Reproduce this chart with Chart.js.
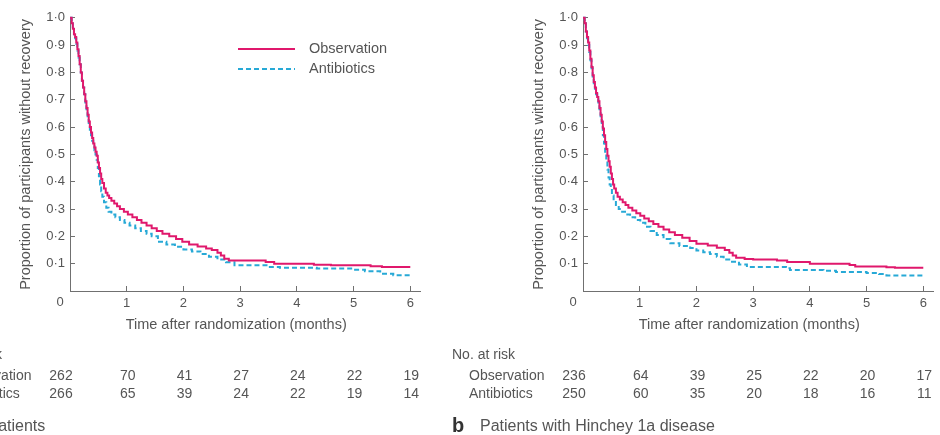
<!DOCTYPE html>
<html>
<head>
<meta charset="utf-8">
<script src="https://cdn.jsdelivr.net/npm/chart.js@4.4.1/dist/chart.umd.min.js"></script>
<style>
  html, body { margin: 0; padding: 0; background: #fff; overflow: hidden; }
  body { width: 940px; height: 435px; position: relative; }
  .panel { position: absolute; top: 0; width: 500px; height: 435px; }
  #panelA { left: -73px; }
  #panelB { left: 440px; }
</style>
</head>
<body>
<div class="panel" id="panelA"><canvas id="chartA" width="500" height="435"></canvas></div>
<div class="panel" id="panelB"><canvas id="chartB" width="500" height="435"></canvas></div>
<script>
  // ticks + risk table columns
  const xTicks = [0, 1, 2, 3, 4, 5, 6];
  const yTicks = [0.1, 0.2, 0.3, 0.4, 0.5, 0.6, 0.7, 0.8, 0.9, 1.0];
  const riskTimes = [0, 1, 2, 3, 4, 5, 6];
  const seriesNames = ["Observation", "Antibiotics"];
  const xTitle = "Time after randomization (months)";

  // panel a - all patients
  const obsTimeA = [0, 0.03, 0.05, 0.07, 0.09, 0.11, 0.13, 0.15, 0.17, 0.19, 0.21, 0.23, 0.25, 0.27, 0.29, 0.31, 0.33, 0.35, 0.37, 0.39, 0.41, 0.43, 0.45, 0.47, 0.49, 0.51, 0.53, 0.55, 0.57, 0.60, 0.63, 0.66, 0.69, 0.73, 0.78, 0.83, 0.88, 0.95, 1.02, 1.1, 1.18, 1.26, 1.35, 1.44, 1.53, 1.63, 1.75, 1.87, 1.98, 2.1, 2.25, 2.4, 2.5, 2.6, 2.66, 2.72, 2.8, 3.45, 3.6, 4.3, 4.6, 5.3, 5.5, 6.0];
  const obsPropA = [1.0, 0.98, 0.96, 0.94, 0.93, 0.91, 0.885, 0.86, 0.83, 0.80, 0.77, 0.745, 0.72, 0.695, 0.67, 0.645, 0.62, 0.60, 0.58, 0.56, 0.54, 0.525, 0.51, 0.495, 0.47, 0.45, 0.43, 0.41, 0.395, 0.375, 0.36, 0.35, 0.34, 0.33, 0.32, 0.31, 0.30, 0.29, 0.28, 0.27, 0.26, 0.25, 0.24, 0.23, 0.22, 0.21, 0.20, 0.19, 0.18, 0.17, 0.163, 0.156, 0.15, 0.14, 0.13, 0.118, 0.112, 0.106, 0.10, 0.096, 0.094, 0.091, 0.088, 0.088];
  const abxTimeA = [0, 0.03, 0.05, 0.07, 0.09, 0.11, 0.13, 0.15, 0.17, 0.19, 0.21, 0.23, 0.25, 0.27, 0.29, 0.31, 0.33, 0.35, 0.37, 0.39, 0.41, 0.43, 0.45, 0.47, 0.49, 0.51, 0.53, 0.55, 0.57, 0.60, 0.64, 0.68, 0.73, 0.8, 0.88, 0.96, 1.05, 1.15, 1.25, 1.35, 1.44, 1.55, 1.7, 1.85, 2.0, 2.15, 2.3, 2.45, 2.6, 2.75, 2.9, 3.5, 3.7, 4.35, 5.0, 5.2, 5.47, 5.7, 6.0];
  const abxPropA = [1.0, 0.98, 0.96, 0.94, 0.925, 0.905, 0.88, 0.855, 0.83, 0.80, 0.77, 0.745, 0.72, 0.69, 0.665, 0.64, 0.615, 0.59, 0.57, 0.55, 0.53, 0.515, 0.50, 0.48, 0.45, 0.42, 0.39, 0.365, 0.345, 0.325, 0.305, 0.29, 0.28, 0.27, 0.26, 0.25, 0.24, 0.23, 0.22, 0.21, 0.20, 0.18, 0.17, 0.162, 0.152, 0.145, 0.135, 0.125, 0.115, 0.105, 0.094, 0.088, 0.085, 0.082, 0.078, 0.072, 0.063, 0.058, 0.057];
  const obsRiskA = [262, 70, 41, 27, 24, 22, 19];
  const abxRiskA = [266, 65, 39, 24, 22, 19, 14];

  // panel b - Hinchey 1a
  const obsTimeB = [0, 0.03, 0.05, 0.07, 0.09, 0.11, 0.13, 0.15, 0.17, 0.19, 0.21, 0.23, 0.25, 0.27, 0.29, 0.31, 0.33, 0.35, 0.37, 0.39, 0.41, 0.43, 0.45, 0.47, 0.49, 0.51, 0.53, 0.55, 0.58, 0.61, 0.65, 0.70, 0.75, 0.80, 0.87, 0.94, 1.01, 1.08, 1.16, 1.24, 1.33, 1.42, 1.52, 1.62, 1.75, 1.88, 2.0, 2.2, 2.36, 2.5, 2.58, 2.64, 2.7, 2.85, 3.0, 3.42, 3.6, 4.0, 4.7, 4.8, 5.35, 5.5, 6.0];
  const obsPropB = [1.0, 0.98, 0.95, 0.93, 0.91, 0.88, 0.85, 0.82, 0.79, 0.765, 0.745, 0.725, 0.71, 0.695, 0.67, 0.645, 0.62, 0.595, 0.57, 0.545, 0.52, 0.495, 0.475, 0.455, 0.43, 0.41, 0.39, 0.375, 0.36, 0.345, 0.335, 0.325, 0.315, 0.305, 0.295, 0.285, 0.275, 0.265, 0.255, 0.245, 0.235, 0.225, 0.215, 0.205, 0.195, 0.183, 0.173, 0.167, 0.158, 0.15, 0.14, 0.13, 0.122, 0.117, 0.115, 0.112, 0.106, 0.10, 0.095, 0.09, 0.087, 0.085, 0.085];
  const abxTimeB = [0, 0.03, 0.05, 0.07, 0.09, 0.11, 0.13, 0.15, 0.17, 0.19, 0.21, 0.23, 0.25, 0.27, 0.29, 0.31, 0.33, 0.35, 0.37, 0.39, 0.41, 0.43, 0.45, 0.47, 0.49, 0.51, 0.54, 0.58, 0.63, 0.69, 0.76, 0.83, 0.92, 1.01, 1.1, 1.19, 1.3, 1.42, 1.54, 1.7, 1.89, 2.0, 2.12, 2.24, 2.36, 2.48, 2.6, 2.75, 2.89, 3.58, 3.65, 4.24, 4.46, 5.0, 5.22, 5.35, 6.0];
  const abxPropB = [1.0, 0.98, 0.95, 0.925, 0.90, 0.875, 0.845, 0.815, 0.785, 0.76, 0.74, 0.72, 0.705, 0.69, 0.66, 0.63, 0.60, 0.57, 0.54, 0.505, 0.475, 0.445, 0.415, 0.39, 0.37, 0.35, 0.33, 0.315, 0.30, 0.29, 0.28, 0.27, 0.26, 0.25, 0.235, 0.22, 0.205, 0.19, 0.175, 0.165, 0.157, 0.148, 0.142, 0.135, 0.125, 0.115, 0.107, 0.097, 0.088, 0.083, 0.077, 0.074, 0.07, 0.066, 0.062, 0.057, 0.052];
  const obsRiskB = [236, 64, 39, 25, 22, 20, 17];
  const abxRiskB = [250, 60, 35, 20, 18, 16, 11];

  const FONT = '"Liberation Sans", Arial, sans-serif';
  const TXT = '#555';
  const AXIS = '#707070';
  const obsColor = '#e0186c';
  const abxColor = '#27a9d6';

  const toXY = (ts, vs) => ts.map((t, i) => ({ x: t, y: vs[i] }));

  // x title, risk table, corner zero, legend, panel caption
  const extrasPlugin = {
    id: 'extras',
    afterDraw(chart, args, opts) {
      const ctx = chart.ctx, xs = chart.scales.x, ys = chart.scales.y;
      const ds = chart.data.datasets;
      ctx.save();
      ctx.fillStyle = TXT;
      ctx.font = '13px ' + FONT;
      ctx.textBaseline = 'middle';
      ctx.textAlign = 'center';
      ctx.fillText('0', xs.getPixelForValue(0) - 10, ys.getPixelForValue(0) + 11);

      // axis title sits a bit left of the axis centre in the original
      ctx.font = '14.5px ' + FONT;
      ctx.fillText(xTitle, xs.getPixelForValue(2.93), 325);

      ctx.font = '14px ' + FONT;
      ctx.textAlign = 'left';
      ctx.fillText('No. at risk', 12, 355);
      const rows = [opts.obsRisk, opts.abxRisk];
      const rowY = [376, 394];
      rows.forEach(function (row, r) {
        ctx.textAlign = 'left';
        ctx.fillText(seriesNames[r], 29, rowY[r]);
        ctx.textAlign = 'center';
        row.forEach(function (n, i) {
          let px = xs.getPixelForValue(riskTimes[i]);
          if (i === 0) { px -= 10; } // first column sits under the corner zero
          ctx.fillText(String(n), px + 1, rowY[r]);
        });
      });

      // caption
      ctx.textAlign = 'left';
      ctx.textBaseline = 'alphabetic';
      ctx.fillStyle = '#333';
      ctx.font = 'bold 20px ' + FONT;
      ctx.fillText(opts.letter, 12, 432);
      ctx.fillStyle = TXT;
      ctx.font = '16px ' + FONT;
      ctx.fillText(opts.caption, 40, 431);

      if (opts.legend) {
        const area = chart.chartArea;
        const lx = area.left + 168, len = 57;
        [49, 69].forEach(function (ly, i) {
          ctx.strokeStyle = ds[i].borderColor;
          ctx.lineWidth = ds[i].borderWidth;
          ctx.setLineDash(ds[i].borderDash || []);
          ctx.beginPath();
          ctx.moveTo(lx, ly);
          ctx.lineTo(lx + len, ly);
          ctx.stroke();
          ctx.setLineDash([]);
          ctx.fillStyle = TXT;
          ctx.font = '14.5px ' + FONT;
          ctx.textBaseline = 'middle';
          ctx.fillText(ds[i].label, lx + len + 14, ly);
        });
      }
      ctx.restore();
    }
  };

  function makePanel(canvasId, obsT, obsP, abxT, abxP, obsRisk, abxRisk, letter, caption, legend) {
    return new Chart(document.getElementById(canvasId), {
      type: 'line',
      data: {
        datasets: [
          {
            label: seriesNames[0],
            data: toXY(obsT, obsP),
            borderColor: obsColor,
            borderWidth: 2,
            stepped: true,
            pointRadius: 0,
            order: 0
          },
          {
            label: seriesNames[1],
            data: toXY(abxT, abxP),
            borderColor: abxColor,
            borderWidth: 2,
            borderDash: [5, 3],
            stepped: true,
            pointRadius: 0,
            order: 1
          }
        ]
      },
      options: {
        responsive: false,
        animation: false,
        events: [],
        clip: false,
        layout: { padding: { left: 0, right: 6.5, top: 17, bottom: 100 } },
        scales: {
          x: {
            type: 'linear',
            min: 0,
            max: 6.18,
            afterBuildTicks: s => { s.ticks = xTicks.map(v => ({ value: v })); },
            afterFit: s => { s.height = 44; },
            border: { display: true, color: AXIS, width: 1 },
            grid: { drawOnChartArea: false, drawTicks: true, tickLength: -5, color: AXIS },
            ticks: {
              padding: 10,
              color: TXT,
              font: { family: FONT, size: 13 },
              maxRotation: 0,
              callback: v => (v === 0 ? '' : String(v))
            },
            title: { display: false }
          },
          y: {
            type: 'linear',
            min: 0,
            max: 1,
            afterBuildTicks: s => { s.ticks = yTicks.map(v => ({ value: v })); },
            afterFit: s => { s.width = 143; },
            border: { display: true, color: AXIS, width: 1 },
            grid: { drawOnChartArea: false, drawTicks: true, tickLength: -5, color: AXIS },
            ticks: {
              padding: 10,
              color: TXT,
              font: { family: FONT, size: 13 },
              callback: v => v.toFixed(1).replace('.', '\u00b7')
            },
            title: {
              display: true,
              text: 'Proportion of participants without recovery',
              color: TXT,
              font: { family: FONT, size: 14.5 },
              padding: { top: 90, bottom: 0 }
            }
          }
        },
        plugins: {
          legend: { display: false },
          tooltip: { enabled: false },
          extras: { obsRisk: obsRisk, abxRisk: abxRisk, letter: letter, caption: caption, legend: legend }
        }
      },
      plugins: [extrasPlugin]
    });
  }

  makePanel('chartA', obsTimeA, obsPropA, abxTimeA, abxPropA, obsRiskA, abxRiskA, 'a', 'All patients', true);
  makePanel('chartB', obsTimeB, obsPropB, abxTimeB, abxPropB, obsRiskB, abxRiskB, 'b', 'Patients with Hinchey 1a disease', false);
</script>
</body>
</html>
